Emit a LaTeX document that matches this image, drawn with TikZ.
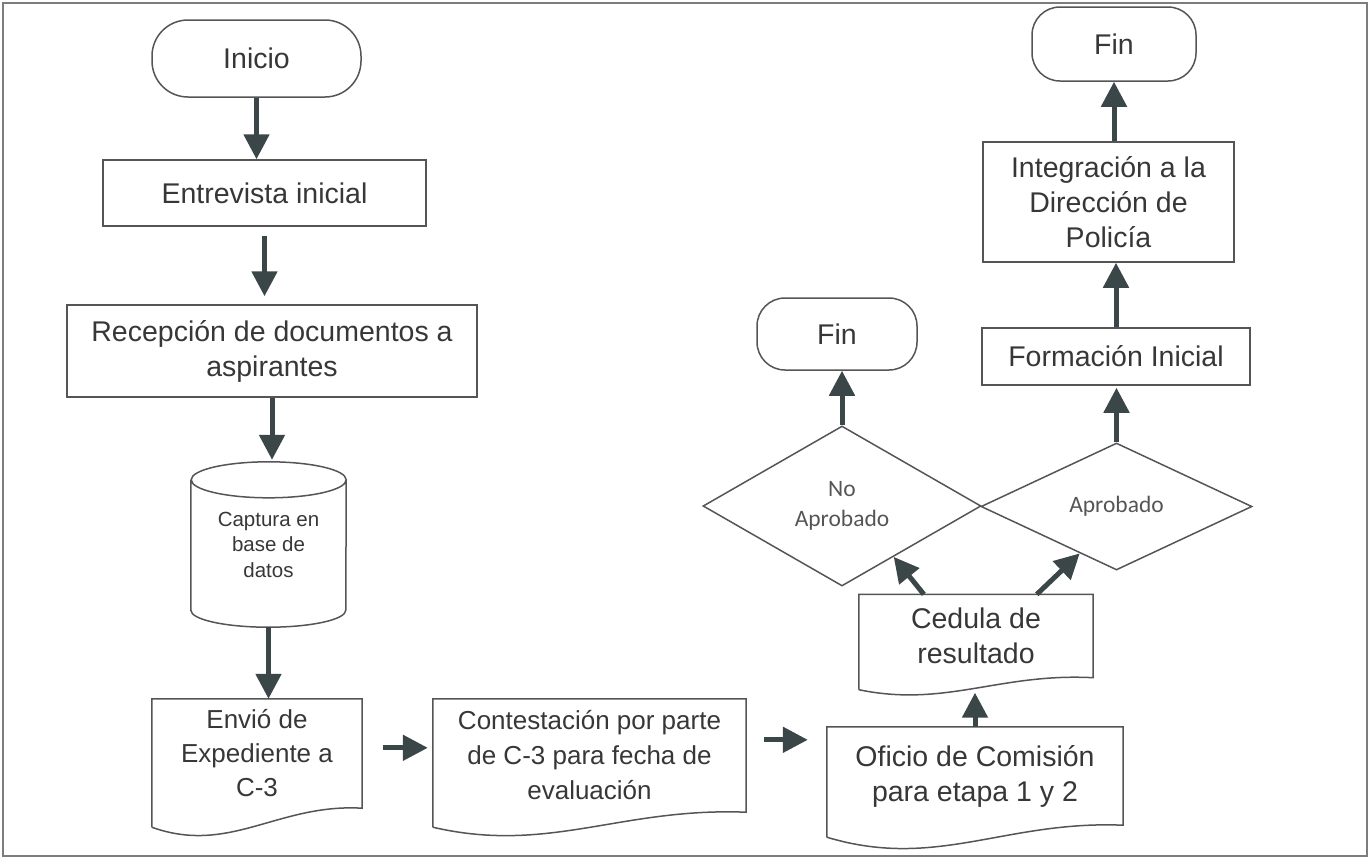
\documentclass[tikz,border=0pt]{standalone}
\usepackage{fontspec}
\setmainfont{Liberation Sans}
\newfontfamily\calfont{Carlito}
\usetikzlibrary{arrows.meta,shapes.geometric,calc}
\definecolor{arrowc}{RGB}{58,70,72}
\definecolor{linec}{RGB}{85,85,85}
\definecolor{textc}{RGB}{55,55,55}
\definecolor{framec}{RGB}{125,125,125}
\newcommand\mydocpath[3]{%
  \draw[shapeline] ($(#1.south west)+(0,#2)$) -- (#1.north west) -- (#1.north east) -- (#1.south east)
    .. controls ($(#1.south west)!0.6!(#1.south east)+(0,-5)$) and ($(#1.south west)!0.37!(#1.south east)+(0,#3)$) .. ($(#1.south west)+(0,#2)$);}
\begin{document}
\begin{tikzpicture}[x=1pt,y=-1pt,
  shapeline/.style={draw=linec, line width=1.5pt},
  txt/.style={text=textc, inner sep=0pt, align=center, font=\fontsize{28.5}{35}\selectfont},
  box/.style={txt, shapeline, rectangle},
  term/.style={box, rounded corners=30pt},
  doc/.style={txt, rectangle},
  dec/.style={diamond, shapeline, inner sep=0pt, align=center, text=textc!85, font=\calfont\fontsize{23.5}{30}\selectfont},
  arr/.style={draw=arrowc, line width=5pt, -{Triangle[length=25pt,width=25pt]}}
]
\useasboundingbox (0,0) rectangle (1372,860);
\draw[framec, line width=2.5pt] (3,3) rectangle (1367,856);

% left column
\node[term, rounded corners=36pt, minimum width=209pt, minimum height=77pt] (ini) at (256.5,58.5) {Inicio};
\node[box, minimum width=323pt, minimum height=66pt] (ent) at (264.5,193) {Entrevista inicial};
\node[box, minimum width=410pt, minimum height=92pt] (rec) at (272,351) {Recepción de documentos a\\aspirantes};
\node[txt, minimum width=155pt, minimum height=165pt, font=\fontsize{20.5}{25.5}\selectfont] (db) at (268.5,544.5) {Captura en\\base de\\datos};
\draw[shapeline] ($(db.north west)+(0,18)$) -- ($(db.south west)+(0,-17)$)
  arc[start angle=180,end angle=360,x radius=77.5pt,y radius=17pt]
  -- ($(db.north east)+(0,18)$)
  arc[start angle=0,end angle=180,x radius=77.5pt,y radius=18pt]
  arc[start angle=180,end angle=360,x radius=77.5pt,y radius=18pt];

% bottom row (documents)
\node[doc, font=\fontsize{26}{34}\selectfont, minimum width=210pt, minimum height=109pt] (env) at (257,753.5) {Envió de\\Expediente a\\C-3};
\mydocpath{env}{19}{47}
\node[doc, font=\fontsize{26}{35}\selectfont, minimum width=313pt, minimum height=113pt] (cont) at (589.5,755.5) {Contestación por parte\\de C-3 para fecha de\\evaluación};
\mydocpath{cont}{15}{42}
\node[doc, minimum width=296pt, minimum height=98pt] (ofi) at (975,776) {Oficio de Comisión\\para etapa 1 y 2};
\mydocpath{ofi}{12}{45}
\node[doc, minimum width=234pt, minimum height=83pt] (ced) at (976,636) {Cedula de\\resultado};
\mydocpath{ced}{12}{30}

% decisions
\node[dec, minimum width=278pt, minimum height=160pt] (dno) at (842,506) {No\\Aprobado};
\node[dec, minimum width=271pt, minimum height=127pt] (dap) at (1116.5,506.5) {Aprobado};

% right column
\node[term, rounded corners=28pt, minimum width=160pt, minimum height=72pt] (fin2) at (837,334) {Fin};
\node[box, minimum width=268pt, minimum height=57pt] (form) at (1116,356.5) {Formación Inicial};
\node[box, minimum width=251pt, minimum height=120pt] (integ) at (1108.5,202) {Integración a la\\Dirección de\\Policía};
\node[term, rounded corners=28pt, minimum width=164pt, minimum height=74pt] (fin1) at (1114,44) {Fin};

% connectors
\draw[arr] (ini.south) -- (ini.south |- ent.north);
\draw[arr] ($(ent.south)+(0,9)$) -- ($(ent.south |- rec.north)+(0,-8)$);
\draw[arr] (rec.south) -- ($(rec.south |- db.north)+(0,-2)$);
\draw[arr] (db.south) -- (db.south |- env.north);
\draw[arr] ($(env.north east)+(21,49)$) -- ($(cont.north west)+(-5,49)$);
\draw[arr] ($(cont.north east)+(18,41)$) -- ($(ofi.north west)+(-19,13)$);
\draw[arr] (ofi.north) -- ($(ofi.north |- ced.south)+(0,15)$);
\draw[arr] ($(ced.north west)+(65,0)$) -- ($(dno.east)!0.63!(dno.south)$);
\draw[arr] ($(ced.north west)+(178,0)$) -- ($(dap.west)!0.73!(dap.south)$);
\draw[arr] (dno.north) -- (dno.north |- fin2.south);
\draw[arr] (dap.north) -- ($(dap.north |- form.south)+(0,2)$);
\draw[arr] (form.north) -- (form.north |- integ.south);
\draw[arr] (fin1.south |- integ.north) -- (fin1.south);
\end{tikzpicture}
\end{document}
